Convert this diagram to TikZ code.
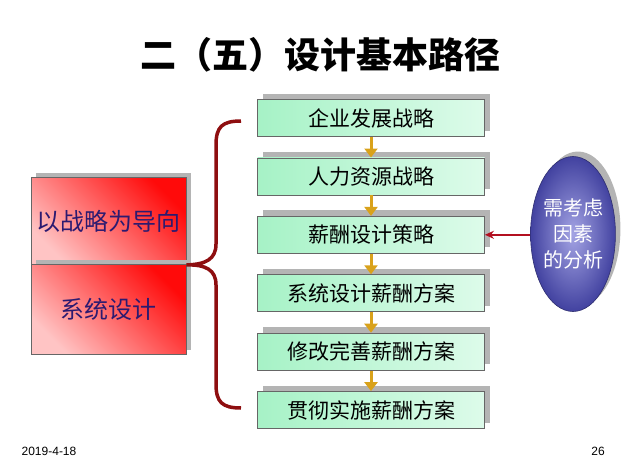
\documentclass[tikz,border=0pt]{standalone}
\usepackage{fontspec}
\setmainfont{Liberation Sans}
\newfontfamily\cjk{Noto Sans CJK SC}
\usetikzlibrary{positioning,arrows.meta,shapes.geometric,shadows}

\definecolor{mintL}{HTML}{A6F2C6}
\definecolor{mintR}{HTML}{DDFBEA}
\definecolor{boxred}{HTML}{FF0A0A}
\definecolor{boxpink}{HTML}{FFC4C4}
\definecolor{inkblue}{HTML}{2C1A70}
\definecolor{bracered}{HTML}{8E0E10}
\definecolor{arrowred}{HTML}{B31020}
\definecolor{gold}{HTML}{D9A21B}
\definecolor{ellin}{HTML}{A4A4E4}
\definecolor{ellout}{HTML}{4242A0}
\definecolor{shadowgray}{HTML}{B4B4B4}

\tikzset{
  stepbox/.style={draw=black!60, line width=0.8pt, left color=mintL, right color=mintR,
    minimum width=227pt, minimum height=37pt, inner sep=0pt,
    font=\cjk\fontsize{21}{25}\selectfont,
    drop shadow={shadow xshift=5pt, shadow yshift=6pt, fill=shadowgray, opacity=1}},
  redbox/.style={draw=black!60, line width=0.8pt, top color=boxred, bottom color=boxpink,
    shading angle=-45, minimum width=155pt, inner sep=0pt, text=inkblue,
    font=\cjk\fontsize{24}{28}\selectfont,
    drop shadow={shadow xshift=5pt, shadow yshift=5pt, fill=shadowgray, opacity=1}},
  flow/.style={gold, line width=3pt, -{Triangle[width=13pt,length=9pt]}},
}

\begin{document}
\begin{tikzpicture}[x=1pt,y=-1pt]
\useasboundingbox (0,0) rectangle (640,471);

% title
\node (title) at (320,55) {\cjk\bfseries\fontsize{36}{40}\selectfont 二（五）设计基本路径};

% path steps
\foreach \t [count=\i] in {企业发展战略,人力资源战略,薪酬设计策略,系统设计薪酬方案,修改完善薪酬方案,贯彻实施薪酬方案}
    \node[stepbox] (s\i) at (371,{118+58.4*(\i-1)}) {\t};
\foreach \i [evaluate=\i as \j using int(\i+1)] in {1,...,5}
    \draw[flow] (s\i.south) -- (s\j.north);

% left boxes
\node[redbox, minimum height=87pt] (r1) at (108.5,221) {以战略为导向};
\node[redbox, minimum height=90pt] (r2) at (108.5,309.5) {系统设计};

% brace
\draw[bracered, line width=3.5pt] (241,121) .. controls (222,121) and (216,127) .. (216,145)
    -- (216,244) .. controls (216,259) and (206,264.5) .. (r1.south east)
    .. controls (206,264.5) and (216,270) .. (216,285)
    -- (216,384) .. controls (216,402) and (222,408) .. (241,408);

% factors
\node[ellipse, draw=ellout!70!black, line width=0.6pt, inner color=ellin, outer color=ellout,
    minimum width=76pt, minimum height=155pt, inner sep=0pt, align=center, text=white,
    font=\cjk\fontsize{20}{26}\selectfont,
    drop shadow={shadow xshift=5pt, shadow yshift=5pt, fill=shadowgray, opacity=1}]
    (ell) at (573,234) {需考虑\\因素\\的分析};
\draw[arrowred, line width=2.2pt, -{Stealth[length=9pt,width=8pt]}] (ell.west |- s3.east) -- (s3.east);

% footer
\node[font=\fontsize{12}{14}\selectfont] (date) at (49,451) {2019-4-18};
\node[font=\fontsize{12}{14}\selectfont] (page) at (598,451) {26};
\end{tikzpicture}
\end{document}
